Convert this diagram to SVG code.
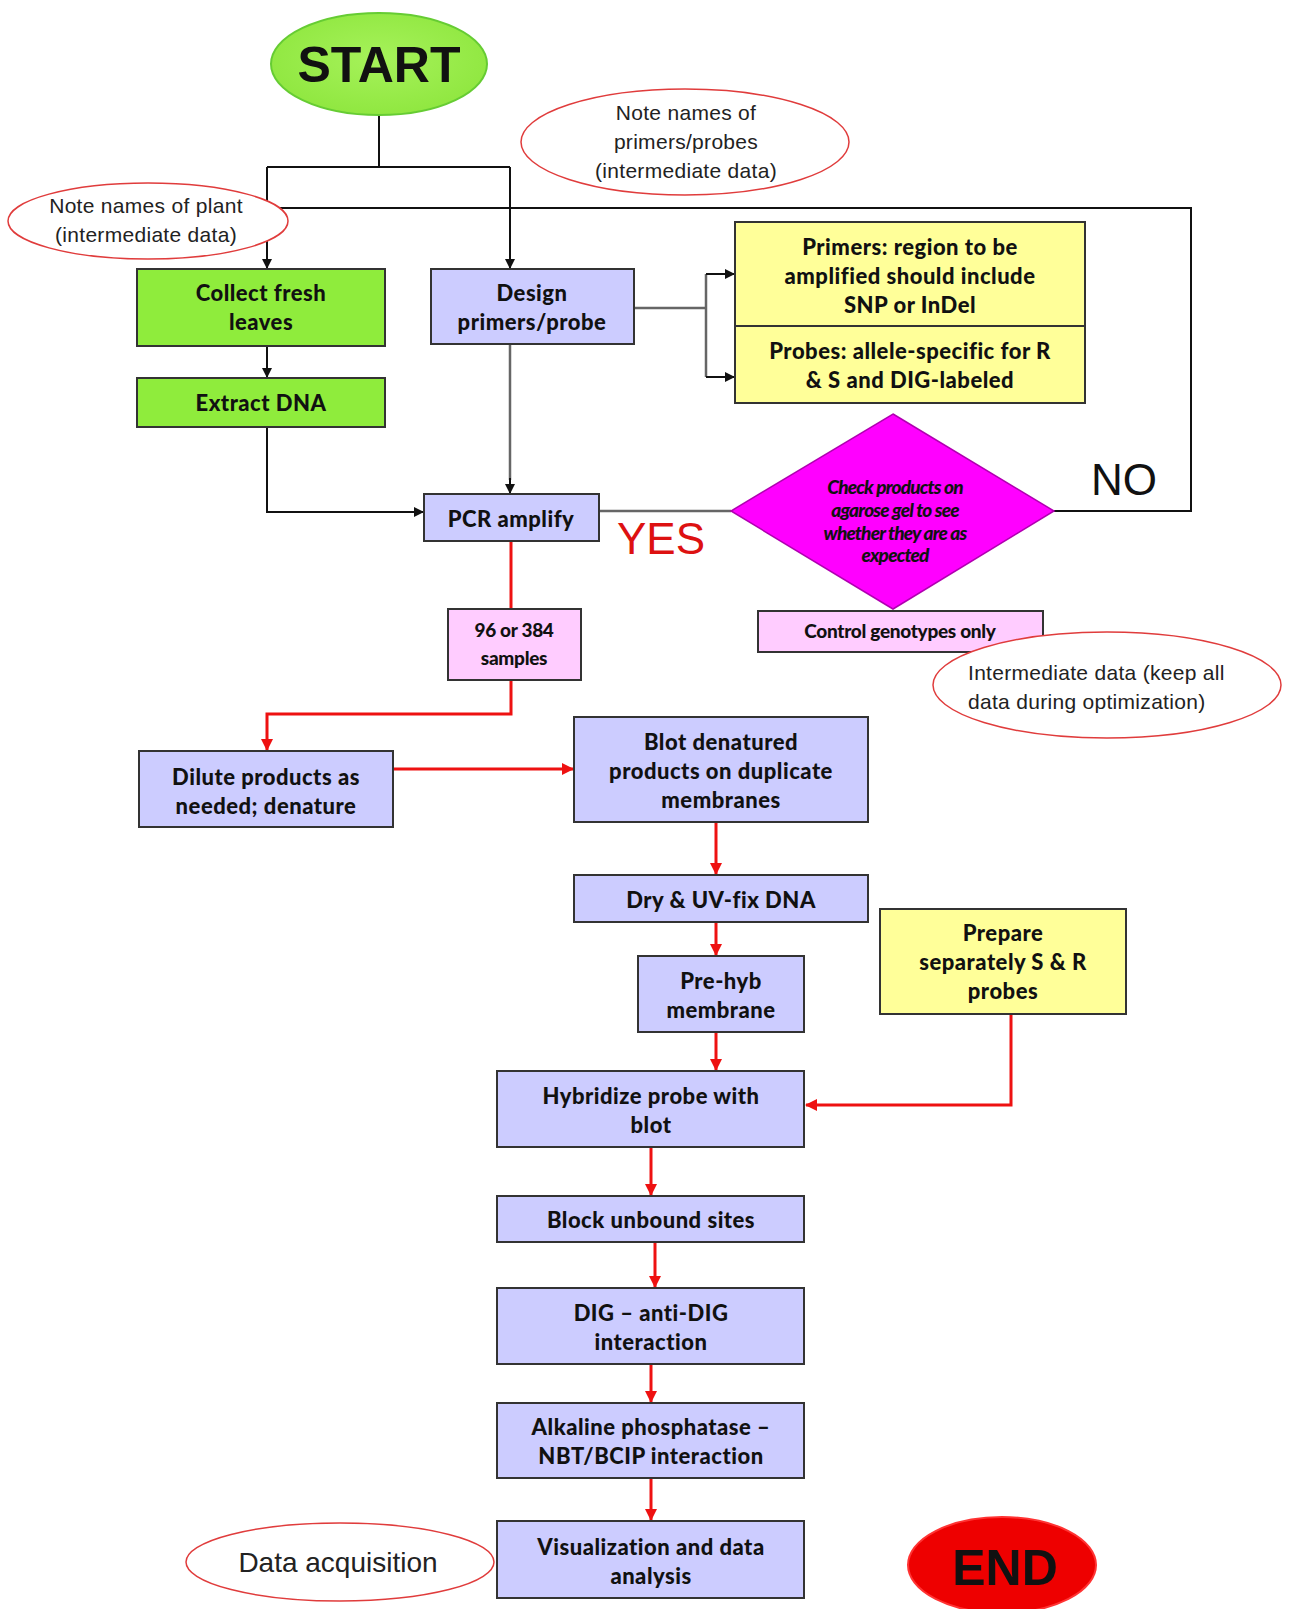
<svg xmlns="http://www.w3.org/2000/svg" width="1289" height="1609" viewBox="0 0 1289 1609">
<defs>
<marker id="ab" markerWidth="10" markerHeight="10" refX="9" refY="5" orient="auto" markerUnits="userSpaceOnUse"><path d="M0,0 L10,5 L0,10 Z" fill="#111"/></marker>
<marker id="ar" markerWidth="12" markerHeight="12" refX="11" refY="6" orient="auto" markerUnits="userSpaceOnUse"><path d="M0,0 L12,6 L0,12 Z" fill="#ee1111"/></marker>
<radialGradient id="gs" cx="50%" cy="45%" r="60%"><stop offset="0" stop-color="#a6f25a"/><stop offset="1" stop-color="#8ee63e"/></radialGradient>
</defs>
<style>
.box{stroke:#333;stroke-width:2}
.lav{fill:#ccccff}
.grn{fill:#8fec3c}
.yel{fill:#ffff99}
.pnk{fill:#ffccff}
.note{fill:#fff;stroke:#e03c3c;stroke-width:1.5}
.t{font-family:Lato,"Liberation Sans",sans-serif;font-weight:900;font-size:22px;fill:#111;text-anchor:middle;letter-spacing:0.5px}
.ts{font-family:Lato,"Liberation Sans",sans-serif;font-weight:900;font-size:19px;fill:#111;text-anchor:middle;letter-spacing:-0.3px}
.n{font-family:"Liberation Sans",Arial,sans-serif;font-size:21px;fill:#222;text-anchor:middle;letter-spacing:0.3px}
.ns{font-family:"Liberation Sans",Arial,sans-serif;font-size:21px;fill:#222;text-anchor:start;letter-spacing:0.3px}
.cb{fill:none;stroke:#111;stroke-width:2}
.cg{fill:none;stroke:#666;stroke-width:2.5}
.cr{fill:none;stroke:#ee1111;stroke-width:3}
</style>
<rect width="1289" height="1609" fill="#fff"/>

<g id="connectors">
<path class="cb" d="M379,115 V167"/>
<path class="cb" d="M267,167 H510"/>
<path class="cb" d="M267,167 V268" marker-end="url(#ab)"/>
<path class="cb" d="M510,167 V268" marker-end="url(#ab)"/>
<path class="cb" d="M267,208 H1191 V511 H1054"/>
<path class="cb" d="M267,346 V377" marker-end="url(#ab)"/>
<path class="cg" d="M634,308 H706"/>
<path class="cg" d="M706,274 V377"/>
<path class="cb" d="M706,274 H734" marker-end="url(#ab)"/>
<path class="cb" d="M706,377 H734" marker-end="url(#ab)"/>
<path class="cg" d="M510,344 V480"/>
<path class="cb" d="M510,478 V493" marker-end="url(#ab)"/>
<path class="cb" d="M267,427 V512 H423" marker-end="url(#ab)"/>
<path class="cg" d="M599,511 H731"/>
<path class="cr" d="M511,541 V609"/>
<path class="cr" d="M511,680 V714 H267 V750" marker-end="url(#ar)"/>
<path class="cr" d="M393,769 H573" marker-end="url(#ar)"/>
<path class="cr" d="M716,822 V874" marker-end="url(#ar)"/>
<path class="cr" d="M716,922 V955" marker-end="url(#ar)"/>
<path class="cr" d="M716,1032 V1070" marker-end="url(#ar)"/>
<path class="cr" d="M1011,1014 V1105 H806" marker-end="url(#ar)"/>
<path class="cr" d="M651,1147 V1195" marker-end="url(#ar)"/>
<path class="cr" d="M655,1242 V1287" marker-end="url(#ar)"/>
<path class="cr" d="M651,1364 V1402" marker-end="url(#ar)"/>
<path class="cr" d="M651,1478 V1520" marker-end="url(#ar)"/>
</g>

<g id="start">
<ellipse cx="379" cy="64" rx="108" ry="51" fill="url(#gs)" stroke="#66cc33" stroke-width="2"/>
<text x="379" y="82" font-family="'Liberation Sans',Arial,sans-serif" font-weight="bold" font-size="50" text-anchor="middle" fill="#111">START</text>
</g>

<g id="note-primers">
<ellipse class="note" cx="685" cy="142" rx="164" ry="53"/>
<text class="n" x="686" y="120">Note names of</text>
<text class="n" x="686" y="149">primers/probes</text>
<text class="n" x="686" y="178">(intermediate data)</text>
</g>

<g id="note-plant">
<ellipse class="note" cx="148" cy="221" rx="140" ry="38"/>
<text class="n" x="146" y="213">Note names of plant</text>
<text class="n" x="146" y="242">(intermediate data)</text>
</g>

<g id="collect">
<rect class="box grn" x="137" y="269" width="248" height="77"/>
<text class="t" x="261" y="301">Collect fresh</text>
<text class="t" x="261" y="330">leaves</text>
</g>

<g id="extract">
<rect class="box grn" x="137" y="378" width="248" height="49"/>
<text class="t" x="261" y="411">Extract DNA</text>
</g>

<g id="design">
<rect class="box lav" x="431" y="269" width="203" height="75"/>
<text class="t" x="532" y="301">Design</text>
<text class="t" x="532" y="330">primers/probe</text>
</g>

<g id="primers">
<rect class="box yel" x="735" y="222" width="350" height="104"/>
<text class="t" x="910" y="255">Primers: region to be</text>
<text class="t" x="910" y="284">amplified should include</text>
<text class="t" x="910" y="313">SNP or InDel</text>
</g>

<g id="probes">
<rect class="box yel" x="735" y="326" width="350" height="77"/>
<text class="t" x="910" y="359">Probes: allele-specific for R</text>
<text class="t" x="910" y="388">&amp; S and DIG-labeled</text>
</g>

<g id="pcr">
<rect class="box lav" x="424" y="494" width="175" height="47"/>
<text class="t" x="511" y="527">PCR amplify</text>
</g>

<g id="check">
<polygon points="893,414 1054,511 893,609 731,511" fill="#ff00ff" stroke="#b000b0" stroke-width="1.5"/>
<text class="ts" x="895" y="494" font-style="italic" style="letter-spacing:-0.8px">Check products on</text>
<text class="ts" x="895" y="517" font-style="italic" style="letter-spacing:-0.8px">agarose gel to see</text>
<text class="ts" x="895" y="540" font-style="italic" style="letter-spacing:-0.8px">whether they are as</text>
<text class="ts" x="895" y="562" font-style="italic" style="letter-spacing:-0.8px">expected</text>
</g>

<g id="yes"><text x="617" y="554" font-family="'Liberation Sans',Arial,sans-serif" font-size="44" fill="#dd1111">YES</text></g>
<g id="no"><text x="1091" y="495" font-family="'Liberation Sans',Arial,sans-serif" font-size="44" fill="#111">NO</text></g>

<g id="control">
<rect class="box pnk" x="758" y="611" width="285" height="41"/>
<text class="ts" x="900" y="638">Control genotypes only</text>
</g>

<g id="note-intermediate">
<ellipse class="note" cx="1107" cy="685" rx="174" ry="53"/>
<text class="ns" x="968" y="680">Intermediate data (keep all</text>
<text class="ns" x="968" y="709">data during optimization)</text>
</g>

<g id="samples">
<rect class="box pnk" x="448" y="609" width="133" height="71"/>
<text class="ts" x="514" y="637">96 or 384</text>
<text class="ts" x="514" y="665">samples</text>
</g>

<g id="dilute">
<rect class="box lav" x="139" y="751" width="254" height="76"/>
<text class="t" x="266" y="785">Dilute products as</text>
<text class="t" x="266" y="814">needed; denature</text>
</g>

<g id="blot">
<rect class="box lav" x="574" y="717" width="294" height="105"/>
<text class="t" x="721" y="750">Blot denatured</text>
<text class="t" x="721" y="779">products on duplicate</text>
<text class="t" x="721" y="808">membranes</text>
</g>

<g id="dry">
<rect class="box lav" x="574" y="875" width="294" height="47"/>
<text class="t" x="721" y="908">Dry &amp; UV-fix DNA</text>
</g>

<g id="prehyb">
<rect class="box lav" x="638" y="956" width="166" height="76"/>
<text class="t" x="721" y="989">Pre-hyb</text>
<text class="t" x="721" y="1018">membrane</text>
</g>

<g id="prepare">
<rect class="box yel" x="880" y="909" width="246" height="105"/>
<text class="t" x="1003" y="941">Prepare</text>
<text class="t" x="1003" y="970">separately S &amp; R</text>
<text class="t" x="1003" y="999">probes</text>
</g>

<g id="hybridize">
<rect class="box lav" x="497" y="1071" width="307" height="76"/>
<text class="t" x="651" y="1104">Hybridize probe with</text>
<text class="t" x="651" y="1133">blot</text>
</g>

<g id="block">
<rect class="box lav" x="497" y="1196" width="307" height="46"/>
<text class="t" x="651" y="1228">Block unbound sites</text>
</g>

<g id="dig">
<rect class="box lav" x="497" y="1288" width="307" height="76"/>
<text class="t" x="651" y="1321">DIG – anti-DIG</text>
<text class="t" x="651" y="1350">interaction</text>
</g>

<g id="alkaline">
<rect class="box lav" x="497" y="1403" width="307" height="75"/>
<text class="t" x="651" y="1435">Alkaline phosphatase –</text>
<text class="t" x="651" y="1464">NBT/BCIP interaction</text>
</g>

<g id="visualization">
<rect class="box lav" x="497" y="1521" width="307" height="77"/>
<text class="t" x="651" y="1555">Visualization and data</text>
<text class="t" x="651" y="1584">analysis</text>
</g>

<g id="note-data">
<ellipse class="note" cx="340" cy="1562" rx="154" ry="39"/>
<text x="338" y="1572" font-family="'Liberation Sans',Arial,sans-serif" font-size="28" fill="#222" text-anchor="middle">Data acquisition</text>
</g>

<g id="end">
<ellipse cx="1002" cy="1565" rx="94" ry="48" fill="#ee0000" stroke="#ff3333" stroke-width="2"/>
<text x="1005" y="1585" font-family="'Liberation Sans',Arial,sans-serif" font-weight="bold" font-size="50" text-anchor="middle" fill="#111">END</text>
</g>
</svg>
